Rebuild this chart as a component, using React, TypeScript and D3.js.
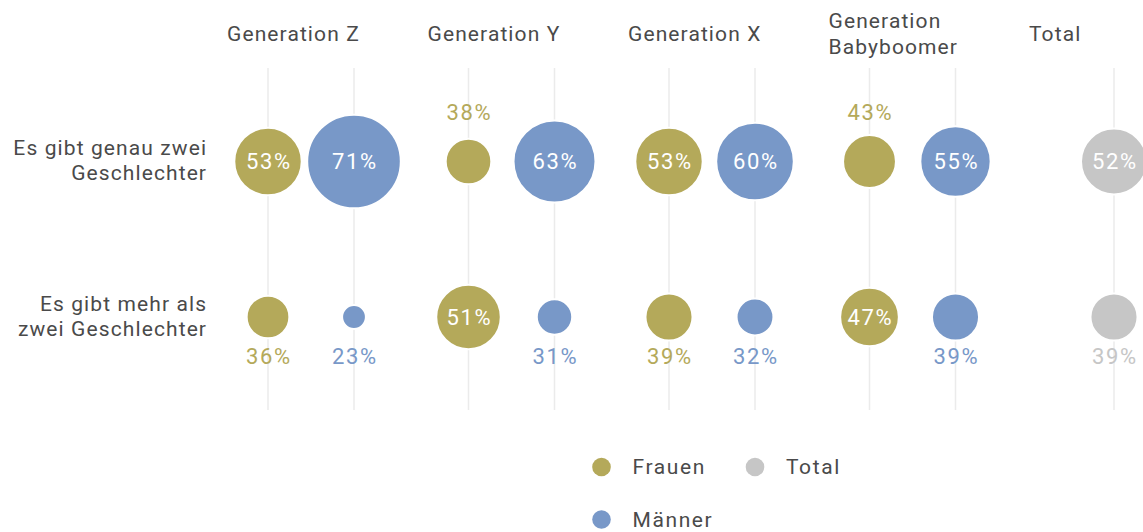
import React from "react";
import * as d3 from "d3";

const groups = ["Generation Z", "Generation Y", "Generation X", "Generation Babyboomer", "Total"];
const rows = ["Es gibt genau zwei Geschlechter", "Es gibt mehr als zwei Geschlechter"];
const rowLines = [["Es gibt genau zwei", "Geschlechter"], ["Es gibt mehr als", "zwei Geschlechter"]];
const frauen = [
  [53, 38, 53, 43],
  [36, 51, 39, 47],
];
const maenner = [
  [71, 63, 60, 55],
  [23, 31, 32, 39],
];
const total = [52, 39];
const legendItems = ["Frauen", "Total", "Männer"];

const COL_F = "#b4a95a";
const COL_M = "#7898c8";
const COL_T = "#c6c6c6";
const TEXT = "#4a4a4a";
const FONT = "Roboto, 'Noto Sans', sans-serif";

export default function App() {
  const W = 1143, H = 532;
  const gx = d3.scalePoint<string>().domain(groups).range([227, 1029]);
  const ry = d3.scalePoint<string>().domain(rows).range([161.5, 317]);
  const allVals = [...frauen.flat(), ...maenner.flat(), ...total];
  const r = d3.scaleLinear().domain([d3.min(allVals)!, d3.max(allVals)!]).range([11.9, 46.8]);
  const offF = 41, offM = 127, offT = 85;
  const labelY = [119.5, 364];
  const LS = 1.1;
  const VLS = 1.6;

  type Mark = { x: number; y: number; v: number; color: string; row: number; key: string };
  const marks: Mark[] = [];
  rows.forEach((row, ri) => {
    groups.slice(0, 4).forEach((g, gi) => {
      marks.push({ x: gx(g)! + offF, y: ry(row)!, v: frauen[ri][gi], color: COL_F, row: ri, key: `f${ri}${gi}` });
      marks.push({ x: gx(g)! + offM, y: ry(row)!, v: maenner[ri][gi], color: COL_M, row: ri, key: `m${ri}${gi}` });
    });
    marks.push({ x: gx("Total")! + offT, y: ry(row)!, v: total[ri], color: COL_T, row: ri, key: `t${ri}` });
  });
  const gridXs = Array.from(new Set(marks.map((m) => m.x)));

  return (
    <svg width={W} height={H} style={{ position: "absolute", left: 0, top: 0, fontFamily: FONT }}>
      {gridXs.map((x) => (
        <line key={x} x1={x} x2={x} y1={68} y2={410} stroke="#ebebeb" strokeWidth={1.5} />
      ))}
      {groups.map((g) => {
        const words = g.split(" ");
        const lines = g.length > 14 ? [words[0], words.slice(1).join(" ")] : [g];
        const y0 = lines.length > 1 ? 28 : 41;
        return (
          <text key={g} x={gx(g)!} y={y0} fontSize={21} letterSpacing={LS} fill={TEXT}>
            {lines.map((l, i) => (
              <tspan key={i} x={gx(g)!} y={y0 + i * 26}>{l}</tspan>
            ))}
          </text>
        );
      })}
      {rows.map((row, ri) => (
        <text key={row} textAnchor="end" fontSize={21} letterSpacing={LS} fill={TEXT}>
          {rowLines[ri].map((l, i) => (
            <tspan key={i} x={206 + LS} y={ry(row)! - 6.5 + i * 25}>{l}</tspan>
          ))}
        </text>
      ))}
      {marks.map((m) => (
        <circle key={m.key} cx={m.x} cy={m.y} r={r(m.v)} fill={m.color} stroke="#fff" strokeWidth={2} />
      ))}
      {marks.map((m) =>
        m.v >= 45 ? (
          <text key={"l" + m.key} x={m.x + VLS / 2} y={m.y + 7.5} textAnchor="middle" fontSize={22} letterSpacing={VLS} fill="#fff">
            {m.v}%
          </text>
        ) : (
          <text key={"l" + m.key} x={m.x + VLS / 2} y={labelY[m.row]} textAnchor="middle" fontSize={22} letterSpacing={VLS} fill={m.color}>
            {m.v}%
          </text>
        )
      )}
      {legendItems.map((name, i) => {
        const col = name === "Frauen" ? COL_F : name === "Männer" ? COL_M : COL_T;
        const cx = i === 1 ? 755 : 601.5;
        const cy = i === 2 ? 519.5 : 467;
        return (
          <g key={name}>
            <circle cx={cx} cy={cy} r={9.3} fill={col} />
            <text x={cx + 31} y={cy + 7} fontSize={21} letterSpacing={1.6} fill={TEXT}>{name}</text>
          </g>
        );
      })}
    </svg>
  );
}
